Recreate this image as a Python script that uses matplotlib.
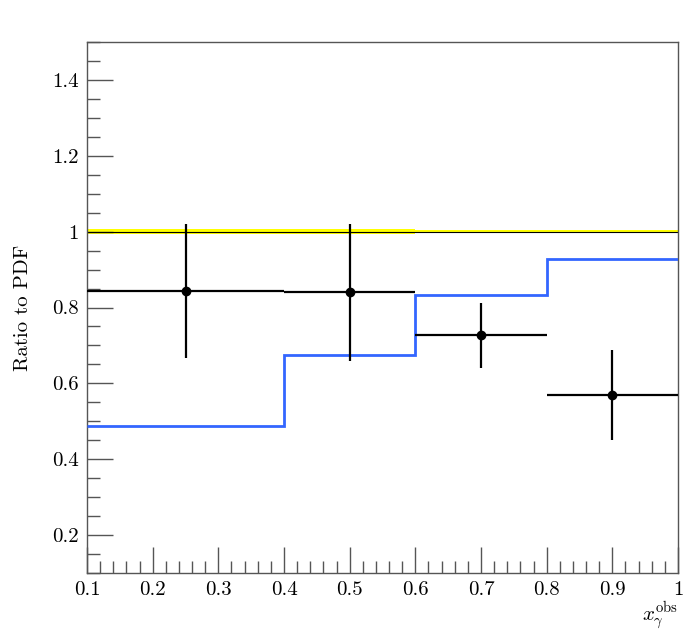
import matplotlib
matplotlib.use("Agg")
import matplotlib.pyplot as plt
from matplotlib.ticker import MultipleLocator, FuncFormatter
import numpy as np

plt.rcParams['font.family'] = ['cmr10', 'DejaVu Serif']
plt.rcParams['mathtext.fontset'] = 'cm'
plt.rcParams['axes.formatter.use_mathtext'] = True

# Data
bin_edges = [0.1, 0.4, 0.6, 0.8, 1.0]
data_x = [0.25, 0.5, 0.7, 0.9]
data_y = [0.843, 0.840, 0.727, 0.569]
data_err = [0.177, 0.181, 0.086, 0.118]
blue_y = [0.487, 0.674, 0.834, 0.929]
band_half = [0.006, 0.006, 0.004, 0.004]

fig = plt.figure(figsize=(7.0, 6.32), dpi=100)
ax = fig.add_axes([87/700, 1-573/632, (678-87)/700, (573-42)/632])

# yellow band with black line at 1
for i in range(4):
    ax.fill_between([bin_edges[i], bin_edges[i+1]], 1-band_half[i], 1+band_half[i],
                    color='#ffff00', lw=0, zorder=1)
ax.axhline(1.0, color='black', lw=0.8, zorder=2)

# blue step
ax.stairs(blue_y, bin_edges, color='#3366ff', lw=2.0, zorder=3, baseline=None)

# data points
xerr_lo = [data_x[i]-bin_edges[i] for i in range(4)]
xerr_hi = [bin_edges[i+1]-data_x[i] for i in range(4)]
ax.errorbar(data_x, data_y, yerr=data_err, xerr=[xerr_lo, xerr_hi], fmt='o',
            color='black', ms=6, elinewidth=1.6, capsize=0, zorder=4)

ax.set_xlim(0.1, 1.0)
ax.set_ylim(0.1, 1.5)

ax.xaxis.set_major_locator(MultipleLocator(0.1))
ax.xaxis.set_minor_locator(MultipleLocator(0.02))
ax.yaxis.set_major_locator(MultipleLocator(0.2))
ax.yaxis.set_minor_locator(MultipleLocator(0.05))
fmt = FuncFormatter(lambda v, p: ('%g' % round(v, 3)))
ax.xaxis.set_major_formatter(fmt)
ax.yaxis.set_major_formatter(fmt)

for s in ax.spines.values():
    s.set_color('#555555')
    s.set_linewidth(1.0)
ax.tick_params(which='both', direction='in', top=False, right=False, color='#555555',
               labelsize=15, width=1.0)
ax.tick_params(which='major', length=19, pad=6)
ax.tick_params(which='minor', length=9)

ax.set_ylabel('Ratio to PDF', fontsize=15, labelpad=14)
ax.text(1.0, -0.05, r'$x_{\gamma}^{\rm obs}$', transform=ax.transAxes,
        ha='right', va='top', fontsize=15)

fig.savefig('out.png', dpi=100)
